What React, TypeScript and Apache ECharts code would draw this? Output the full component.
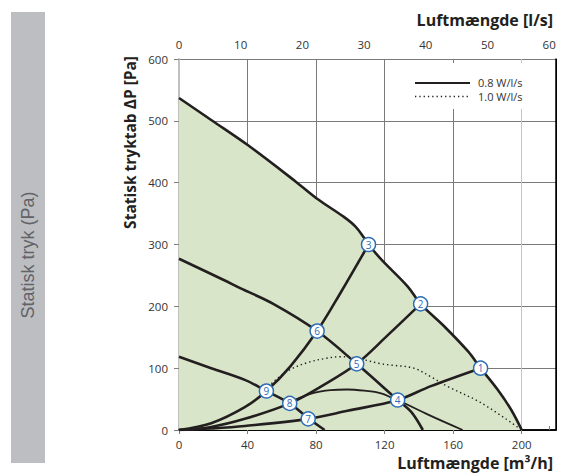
import React, { useEffect, useRef } from "react";
import * as echarts from "echarts";

// ---- Data ----
const xMaxM3h = 220;
const xTickInterval = 40;
const lsPerM3h = 1 / 3.6;
const lsTickInterval = 10;
const yMax = 600;
const yTickInterval = 100;

// Maximum fan curve (envelope)
const maxCurve: number[][] = [
  [0, 537], [19, 501], [40.5, 460], [68, 402], [80.6, 374], [96, 345], [103, 329],
  [108, 311], [110.6, 300], [118, 276], [133.5, 232], [141, 204], [155, 167],
  [168.7, 127], [176, 100], [186, 65], [194, 32], [200, 0],
];
// Middle fan curve
const midCurve: number[][] = [
  [0, 277], [25.8, 243], [36, 229], [55, 204], [80.6, 160], [103.7, 107],
  [127.6, 48.5], [135.4, 29.6], [142.3, 0],
];
// Low fan curve
const lowCurve: number[][] = [
  [0, 118.6], [18.8, 100], [38.4, 81], [51, 63], [64.6, 43], [75.4, 19], [85, 0],
];
// System curves
const sysA: number[][] = [
  [0, 0], [18.8, 11], [38.4, 37], [51, 63], [65, 103], [80.6, 160], [94.3, 222], [110.6, 300],
];
const sysB: number[][] = [
  [0, 0], [18.8, 5], [38.4, 18], [64.6, 43], [84.5, 73], [103.7, 107], [121.7, 153], [141, 204],
];
const sysC: number[][] = [
  [0, 0], [18.8, 2.5], [38.4, 6.5], [75.4, 18], [98.3, 31], [127.6, 48.5], [147, 71], [176, 100],
];
// SFP iso-lines
const sfp08: number[][] = [
  [64.6, 43], [67, 48], [78.7, 60], [88.5, 64.5], [98, 65.5], [108, 63.6], [117.9, 59.4],
  [124.7, 51.5], [127.6, 48.5], [146, 24], [165.5, 0],
];
const sfp10: number[][] = [
  [51, 63], [54, 75], [63.8, 96], [75, 109], [86, 116], [94.3, 118.5], [104, 116],
  [118, 107], [124, 105], [137, 100], [147, 86], [157, 70], [176.5, 43.6], [200, 0],
];
// Numbered operating points
const pointIds = [1, 2, 3, 4, 5, 6, 7, 8, 9];
const pointX = [176, 141, 110.6, 127.6, 103.7, 80.6, 75.4, 64.6, 51];
const pointY = [100, 204, 300, 48.5, 107, 160, 18, 43, 63];

const legendNames = ["0.8 W/l/s", "1.0 W/l/s"];
const topAxisTitle = "Luftmængde [l/s]";
const bottomAxisTitle = "Luftmængde [m³/h]";
const yAxisTitle = "Statisk tryktab ΔP [Pa]";
const sideLabel = "Statisk tryk (Pa)";

const FONT = '"Open Sans"';
const INK = "#231f20";
const BLUE = "#2c6db5";
const LABEL = "#333333";

export default function App() {
  const ref = useRef<HTMLDivElement>(null);

  useEffect(() => {
    document.body.style.margin = "0";
    if (!ref.current) return;
    const chart = echarts.init(ref.current, undefined, { renderer: "svg" });

    const thick = (data: number[][], z = 3) => ({
      type: "line",
      data,
      smooth: 0.35,
      showSymbol: false,
      symbol: "none",
      z,
      lineStyle: { color: INK, width: 2.6 },
      silent: true,
    });

    chart.setOption({
      animation: false,
      textStyle: { fontFamily: "Open Sans" },
      grid: { left: 179, right: 10, top: 59, bottom: 45 },
      xAxis: [
        {
          type: "value",
          min: 0,
          max: xMaxM3h,
          interval: xTickInterval,
          position: "bottom",
          axisLine: { show: true, lineStyle: { color: "#000", width: 1.5 } },
          axisTick: { show: true, length: 4, lineStyle: { color: "#808080" } },
          axisLabel: { color: LABEL, fontSize: 11.5, margin: 8, showMaxLabel: false, fontFamily: "Open Sans" },
          splitLine: {
            show: true,
            lineStyle: {
              color: ["#c8c8c8", "#7a7a7a", "#7a7a7a", "#7a7a7a", "#7a7a7a", "#c4c4c4", "#000"],
              width: 1,
            },
          },
        },
        {
          type: "value",
          min: 0,
          max: xMaxM3h * lsPerM3h,
          interval: lsTickInterval,
          position: "top",
          axisLine: { show: true, lineStyle: { color: "#000", width: 1.5 } },
          axisTick: { show: true, length: 4, lineStyle: { color: "#808080" } },
          axisLabel: { color: LABEL, fontSize: 11.5, margin: 9, showMaxLabel: false, fontFamily: "Open Sans" },
          splitLine: { show: false },
        },
      ],
      yAxis: [
        {
          type: "value",
          min: 0,
          max: yMax,
          interval: yTickInterval,
          axisLine: { show: true, onZero: false, lineStyle: { color: "#c0c0c0", width: 2 } },
          axisTick: { show: true, length: 5, lineStyle: { color: "#808080" } },
          axisLabel: { color: LABEL, fontSize: 11.5, margin: 11, fontFamily: "Open Sans" },
          splitLine: { show: true, lineStyle: { color: "#7a7a7a", width: 1 } },
        },
        {
          type: "value",
          min: 0,
          max: yMax,
          interval: yTickInterval,
          position: "right",
          axisLine: { show: true, onZero: false, lineStyle: { color: "#000", width: 1.5 } },
          axisTick: { show: false },
          axisLabel: { show: false },
          splitLine: { show: false },
        },
      ],
      graphic: [
        {
          type: "rect",
          shape: { x: 11, y: 12, width: 34, height: 451 },
          style: { fill: "#bdbec2" },
          z: 0,
        },
        {
          type: "text",
          x: 28,
          y: 255,
          rotation: Math.PI / 2,
          style: {
            text: sideLabel,
            fill: "#626367",
            font: '18px "Liberation Sans", Arial, sans-serif',
            textAlign: "center",
            textVerticalAlign: "middle",
          },
        },
        {
          type: "text",
          x: 553,
          y: 20,
          style: {
            text: topAxisTitle,
            fill: INK,
            font: `bold 16px ${FONT}`,
            textAlign: "right",
            textVerticalAlign: "middle",
          },
        },
        {
          type: "text",
          x: 553,
          y: 463,
          style: {
            text: bottomAxisTitle,
            fill: INK,
            font: `bold 16px ${FONT}`,
            textAlign: "right",
            textVerticalAlign: "middle",
          },
        },
        {
          type: "text",
          x: 130,
          y: 56,
          rotation: Math.PI / 2,
          style: {
            text: yAxisTitle,
            fill: INK,
            font: `bold 15.5px ${FONT}`,
            textAlign: "right",
            textVerticalAlign: "middle",
          },
        },
        {
          type: "rect",
          shape: { x: 410, y: 63, width: 144, height: 46 },
          style: { fill: "#fff" },
          z: 5,
        },
        {
          type: "line",
          shape: { x1: 415, y1: 83, x2: 470, y2: 83 },
          style: { stroke: INK, lineWidth: 1.8 },
          z: 6,
        },
        {
          type: "line",
          shape: { x1: 415, y1: 96.5, x2: 470, y2: 96.5 },
          style: { stroke: INK, lineWidth: 1.3, lineDash: [1.3, 3] },
          z: 6,
        },
        {
          type: "text",
          x: 478,
          y: 82.5,
          style: { text: legendNames[0], fill: LABEL, font: `11px ${FONT}`, textVerticalAlign: "middle" },
          z: 6,
        },
        {
          type: "text",
          x: 478,
          y: 96.5,
          style: { text: legendNames[1], fill: LABEL, font: `11px ${FONT}`, textVerticalAlign: "middle" },
          z: 6,
        },
      ],
      series: [
        {
          ...thick(maxCurve, 3),
          areaStyle: { color: "#d9e5c8", opacity: 1 },
          z: 1,
        },
        thick(midCurve),
        thick(lowCurve),
        thick(sysA),
        thick(sysB),
        thick(sysC),
        {
          type: "line",
          name: legendNames[0],
          data: sfp08,
          smooth: 0.35,
          showSymbol: false,
          symbol: "none",
          z: 3,
          lineStyle: { color: INK, width: 1.8 },
        },
        {
          type: "line",
          name: legendNames[1],
          data: sfp10,
          smooth: 0.35,
          showSymbol: false,
          symbol: "none",
          z: 3,
          lineStyle: { color: INK, width: 1.4, type: [1.4, 3] },
        },
        {
          type: "scatter",
          data: pointIds.map((id, i) => ({ value: [pointX[i], pointY[i]], name: String(id) })),
          symbol: "circle",
          symbolSize: 14,
          z: 10,
          itemStyle: { color: "#fff", borderColor: BLUE, borderWidth: 1.5, opacity: 1 },
          label: {
            show: true,
            position: "inside",
            formatter: (p: any) => p.name,
            color: BLUE,
            fontSize: 10,
            fontFamily: "Open Sans",
          },
        },
      ],
    });

    return () => chart.dispose();
  }, []);

  return <div ref={ref} style={{ width: 566, height: 475 }} />;
}
